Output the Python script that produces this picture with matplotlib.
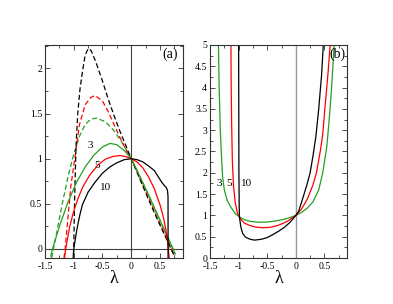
import matplotlib
matplotlib.use("Agg")
import matplotlib.pyplot as plt
from matplotlib.ticker import MultipleLocator

plt.rcParams['font.family'] = ['Liberation Serif', 'DejaVu Serif']

GREEN = "#22a022"
RED = "#ff0000"
BLACK = "#000000"

# ---- panel (a), solid curves (n = 3, 5, 10) ----
lam_a3 = [-1.40, -1.37, -1.25, -1.10, -0.95, -0.80, -0.65, -0.50, -0.37, -0.25, -0.12, 0.0,
          0.1, 0.2, 0.3, 0.4, 0.5, 0.6, 0.7, 0.76]
val_a3 = [-0.08, 0.0, 0.25, 0.52, 0.74, 0.91, 1.04, 1.13, 1.17, 1.155, 1.09, 1.0,
          0.87, 0.735, 0.6, 0.46, 0.32, 0.18, 0.04, -0.05]
lam_a5 = [-1.16, -1.14, -1.07, -1.0, -0.92, -0.84, -0.72, -0.58, -0.45, -0.32, -0.2, -0.1, 0.0,
          0.1, 0.2, 0.3, 0.4, 0.5, 0.56, 0.6, 0.63, 0.66]
val_a5 = [-0.1, 0.0, 0.25, 0.42, 0.57, 0.69, 0.82, 0.93, 0.995, 1.025, 1.035, 1.025, 1.0,
          0.965, 0.9, 0.8, 0.67, 0.49, 0.35, 0.22, 0.1, -0.1]
lam_a10 = [-1.01, -1.0, -0.95, -0.9, -0.85, -0.75, -0.63, -0.5, -0.37, -0.25, -0.12, 0.0,
           0.1, 0.2, 0.3, 0.4, 0.47, 0.53, 0.58, 0.61, 0.63, 0.64, 0.641]
val_a10 = [-0.1, 0.0, 0.2, 0.36, 0.49, 0.63, 0.74, 0.84, 0.91, 0.955, 0.99, 1.0,
           0.99, 0.965, 0.92, 0.87, 0.8, 0.74, 0.7, 0.68, 0.65, 0.58, -0.2]

# ---- panel (a), dashed curves ----
lam_d3 = [-1.385, -1.35, -1.3, -1.2, -1.1, -1.0, -0.9, -0.8, -0.7, -0.6, -0.45, -0.3, -0.15, 0.0,
          0.1, 0.2, 0.3, 0.4, 0.5, 0.6, 0.7, 0.77]
val_d3 = [-0.1, 0.01, 0.17, 0.5, 0.8, 1.05, 1.25, 1.38, 1.44, 1.45, 1.41, 1.31, 1.17, 1.0,
          0.87, 0.735, 0.6, 0.46, 0.32, 0.18, 0.04, -0.06]
lam_d5 = [-1.17, -1.15, -1.1, -1.05, -0.96, -0.9, -0.8, -0.7, -0.63, -0.5, -0.4, -0.3, -0.2, -0.1, 0.0,
          0.1, 0.2, 0.3, 0.4, 0.5, 0.6, 0.7, 0.76]
val_d5 = [-0.1, 0.0, 0.35, 0.7, 1.1, 1.38, 1.6, 1.68, 1.70, 1.64, 1.52, 1.38, 1.24, 1.11, 1.0,
          0.86, 0.71, 0.57, 0.42, 0.28, 0.14, 0.0, -0.08]
lam_d10 = [-1.01, -1.0, -0.99, -0.975, -0.96, -0.93, -0.89, -0.84, -0.8, -0.75, -0.7, -0.62, -0.5,
           -0.4, -0.3, -0.2, -0.1, 0.0, 0.1, 0.2, 0.3, 0.4, 0.5, 0.6, 0.7, 0.75]
val_d10 = [-0.15, 0.0, 0.4, 0.8, 1.15, 1.5, 1.78, 2.0, 2.15, 2.22, 2.2, 2.08, 1.86,
           1.66, 1.48, 1.31, 1.155, 1.0, 0.85, 0.7, 0.55, 0.405, 0.265, 0.13, -0.01, -0.08]

# ---- panel (b) ----
lam_b3 = [-1.355, -1.34, -1.32, -1.30, -1.28, -1.25, -1.2, -1.13, -1.05, -0.98, -0.9, -0.8, -0.65,
          -0.5, -0.35, -0.2, -0.1, 0.0, 0.1, 0.2, 0.3, 0.4, 0.47, 0.54, 0.58, 0.62, 0.67, 0.69]
val_b3 = [5.2, 4.0, 3.0, 2.4, 1.9, 1.6, 1.35, 1.18, 1.03, 0.96, 0.9, 0.86, 0.84,
          0.845, 0.87, 0.91, 0.95, 1.0, 1.07, 1.17, 1.32, 1.6, 2.0, 2.6, 3.2, 3.9, 5.0, 5.4]
lam_b5 = [-1.135, -1.13, -1.12, -1.11, -1.09, -1.06, -1.02, -0.97, -0.9, -0.8, -0.7, -0.58,
          -0.45, -0.3, -0.15, 0.0, 0.1, 0.2, 0.3, 0.36, 0.43, 0.47, 0.51, 0.56, 0.60, 0.62]
val_b5 = [5.2, 4.0, 3.0, 2.3, 1.7, 1.3, 1.05, 0.92, 0.82, 0.76, 0.725, 0.71,
          0.72, 0.77, 0.86, 1.0, 1.15, 1.38, 1.72, 2.0, 2.53, 2.9, 3.55, 4.3, 5.0, 5.4]
lam_b10 = [-1.0, -0.995, -0.99, -0.985, -0.96, -0.93, -0.88, -0.8, -0.72, -0.6, -0.5, -0.4, -0.3,
           -0.2, -0.1, 0.0, 0.05, 0.13, 0.2, 0.25, 0.3, 0.35, 0.4, 0.45, 0.48, 0.5]
val_b10 = [5.2, 2.0, 1.2, 0.95, 0.72, 0.58, 0.49, 0.44, 0.42, 0.44, 0.48, 0.55, 0.63,
           0.72, 0.84, 1.0, 1.1, 1.44, 1.75, 2.0, 2.4, 2.85, 3.5, 4.3, 5.0, 5.5]

xticks = [-1.5, -1, -0.5, 0, 0.5]
xtick_labels = ["-1.5", "-1", "-0.5", "0", "0.5"]
yticks_a = [0, 0.5, 1, 1.5, 2]
ytick_labels_a = ["0", "0.5", "1", "1.5", "2"]
yticks_b = [0, 0.5, 1, 1.5, 2, 2.5, 3, 3.5, 4, 4.5, 5]
ytick_labels_b = ["0", "0.5", "1", "1.5", "2", "2.5", "3", "3.5", "4", "4.5", "5"]

fig = plt.figure(figsize=(3.93, 3.04), dpi=100)
ax1 = fig.add_axes([0.1145, 0.1513, 0.3511, 0.7007])
ax2 = fig.add_axes([0.5344, 0.1513, 0.3494, 0.7007])

lw = 0.9
dash = (0, (4, 2.2))

# panel (a)
ax1.axhline(0, color="0.25", lw=0.8)
ax1.axvline(0, color="0.25", lw=0.8)
ax1.plot(lam_d3, val_d3, color=GREEN, lw=lw, linestyle=dash)
ax1.plot(lam_d5, val_d5, color=RED, lw=lw, linestyle=dash)
ax1.plot(lam_d10, val_d10, color=BLACK, lw=lw, linestyle=dash)
ax1.plot(lam_a3, val_a3, color=GREEN, lw=lw)
ax1.plot(lam_a5, val_a5, color=RED, lw=lw)
ax1.plot(lam_a10, val_a10, color=BLACK, lw=lw)
ax1.text(-0.71, 1.15, "3", fontsize=8, ha="center", va="center")
ax1.text(-0.59, 0.92, "5", fontsize=8, ha="center", va="center")
ax1.text(-0.45, 0.68, "10", fontsize=8, ha="center", va="center")
ax1.text(0.67, 2.155, "(a)", fontsize=10, ha="center", va="center")
ax1.set_xlim(-1.5, 0.9)
ax1.set_ylim(-0.1, 2.26)
ax1.set_yticks(yticks_a)
ax1.set_yticklabels(ytick_labels_a)

# panel (b)
ax2.axvline(0, color="0.6", lw=1.0)
ax2.plot(lam_b3, val_b3, color=GREEN, lw=lw)
ax2.plot(lam_b5, val_b5, color=RED, lw=lw)
ax2.plot(lam_b10, val_b10, color=BLACK, lw=lw)
ax2.text(-1.34, 1.75, "3", fontsize=8, ha="center", va="center")
ax2.text(-1.165, 1.75, "5", fontsize=8, ha="center", va="center")
ax2.text(-0.87, 1.75, "10", fontsize=8, ha="center", va="center")
ax2.text(0.73, 4.79, "(b)", fontsize=10, ha="center", va="center")
ax2.set_xlim(-1.5, 0.9)
ax2.set_ylim(0, 5)
ax2.set_yticks(yticks_b)
ax2.set_yticklabels(ytick_labels_b)

for ax in (ax1, ax2):
    ax.set_xticks(xticks)
    ax.set_xticklabels(xtick_labels)
    ax.xaxis.set_minor_locator(MultipleLocator(0.25))
    ax.yaxis.set_minor_locator(MultipleLocator(0.25))
    ax.tick_params(which="both", direction="in", top=True, right=True,
                   labelsize=7, color="0.3", width=0.7)
    ax.tick_params(axis="x", pad=3)
    ax.tick_params(axis="y", pad=2)
    ax.tick_params(which="major", length=3.5)
    ax.tick_params(which="minor", length=2)
    for s in ax.spines.values():
        s.set_linewidth(0.8)
        s.set_color("0.2")
    ax.set_xlabel("λ", fontsize=13, labelpad=-1)

fig.savefig("out.png", dpi=100)
